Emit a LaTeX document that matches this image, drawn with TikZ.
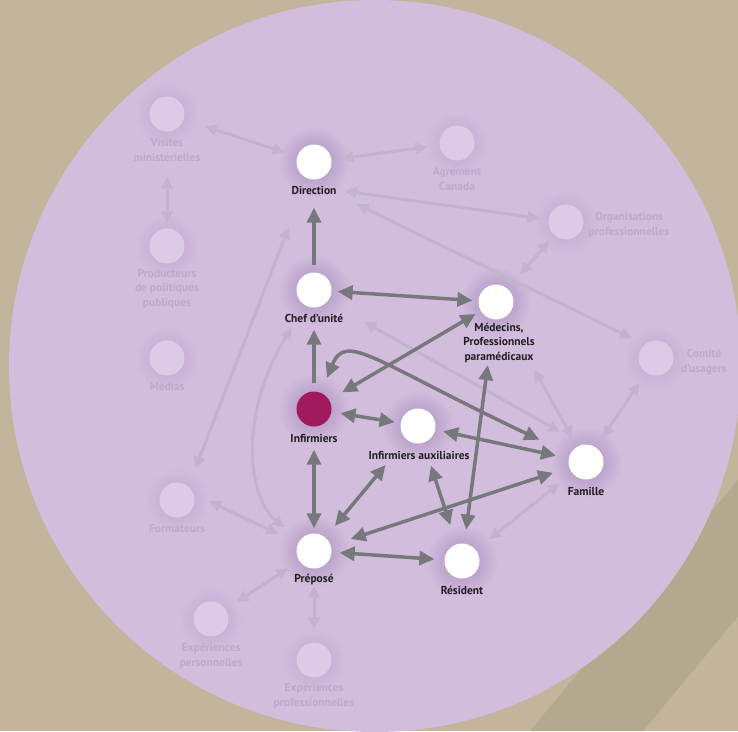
\documentclass[tikz,border=0pt]{standalone}
\usepackage{fontspec}
\setmainfont{PT Sans}
\usetikzlibrary{arrows.meta}

\definecolor{sand}{HTML}{C2B59B}
\definecolor{sanddark}{HTML}{B4A98F}
\definecolor{lav}{HTML}{D3BDDD}
\definecolor{glowdark}{HTML}{B8A0C8}
\definecolor{glowlight}{HTML}{C8B1D5}
\definecolor{lightnode}{HTML}{DCCAE6}
\definecolor{lighttext}{HTML}{BDABC9}
\definecolor{darktext}{HTML}{231F20}
\definecolor{darklink}{HTML}{76787B}
\definecolor{lightlink}{HTML}{C3B3CF}
\definecolor{nurse}{HTML}{A21A5E}

\pgfdeclarelayer{bg}
\pgfdeclarelayer{glow}
\pgfsetlayers{bg,glow,main}

\pgfdeclareradialshading{darkglow}{\pgfpointorigin}{color(0bp)=(glowdark); color(10bp)=(glowdark); color(25bp)=(lav); color(50bp)=(lav)}
\pgfdeclareradialshading{lightglow}{\pgfpointorigin}{color(0bp)=(glowlight); color(12bp)=(glowlight); color(25bp)=(lav); color(50bp)=(lav)}

\begin{document}
\begin{tikzpicture}[x=1pt, y=-1pt,
    wnode/.style={circle, fill=white, minimum size=35pt, inner sep=0pt},
    lnode/.style={circle, fill=lightnode, minimum size=35pt, inner sep=0pt},
    dlabel/.style={font=\bfseries\fontsize{11.5}{14.5}\selectfont, text=darktext, align=center, inner sep=0pt},
    llabel/.style={dlabel, text=lighttext},
    dlink/.style={draw=darklink, line width=3.5pt, {Triangle[length=15pt,width=14pt]}-{Triangle[length=15pt,width=14pt]}},
    dlinkone/.style={draw=darklink, line width=3.5pt, -{Triangle[length=15pt,width=14pt]}},
    llink/.style={draw=lightlink, line width=3pt, {Triangle[length=12pt,width=11pt]}-{Triangle[length=12pt,width=11pt]}}]
    \useasboundingbox (0,0) rectangle (738,731);

    % main actors
    \node[wnode] (dir) at (314,162) {};
    \node[wnode] (chef) at (314,290) {};
    \node[wnode] (med) at (496,302) {};
    \node[circle, fill=nurse, minimum size=35pt, inner sep=0pt] (inf) at (314,409) {};
    \node[wnode] (aux) at (418,426) {};
    \node[wnode] (fam) at (586,462) {};
    \node[wnode] (prep) at (314,551) {};
    \node[wnode] (res) at (462,561) {};

    % outside actors
    \node[lnode] (vis) at (167,114) {};
    \node[lnode] (agr) at (457,143) {};
    \node[lnode] (prod) at (167,246) {};
    \node[lnode] (org) at (566,222) {};
    \node[lnode] (medias) at (167,358) {};
    \node[lnode] (com) at (656,358) {};
    \node[lnode] (form) at (177,500) {};
    \node[lnode] (expp) at (211,619) {};
    \node[lnode] (expr) at (314,660) {};

    % labels
    \node[dlabel] (dir-l) at (314,190) {Direction};
    \node[dlabel] (chef-l) at (314,318) {Chef d’unité};
    \node[dlabel] (med-l) at (499,343) {Médecins,\\Professionnels\\paramédicaux};
    \node[dlabel] (inf-l) at (314,438) {Infirmiers};
    \node[dlabel] (aux-l) at (419,455) {Infirmiers auxiliaires};
    \node[dlabel] (fam-l) at (586,491) {Famille};
    \node[dlabel] (prep-l) at (314,579) {Préposé};
    \node[dlabel] (res-l) at (462,590) {Résident};
    \node[llabel] (vis-l) at (167,150) {Visites\\ministérielles};
    \node[llabel] (agr-l) at (457,179) {Agrément\\Canada};
    \node[llabel] (prod-l) at (167,289) {Producteurs\\de politiques\\publiques};
    \node[llabel] (org-l) at (629,225) {Organisations\\professionnelles};
    \node[llabel] (medias-l) at (167,386) {Médias};
    \node[llabel] (com-l) at (704,362) {Comité\\d’usagers};
    \node[llabel] (form-l) at (177,529) {Formateurs};
    \node[llabel] (expp-l) at (211,656) {Expériences\\personnelles};
    \node[llabel] (expr-l) at (314,696) {Expériences\\professionnelles};

    % background and halos
    \begin{pgfonlayer}{bg}
        \clip (0,0) rectangle (738,731);
        \fill[sand] (0,0) rectangle (738,731);
        \fill[sanddark] (530,731) -- (760,453) -- (760,590) -- (643,731) -- cycle;
        \fill[lav] (375,366) circle (366pt);
    \end{pgfonlayer}
    \begin{pgfonlayer}{glow}
        \foreach \n in {dir,chef,med,inf,aux,fam,prep,res}
            \shade[shading=darkglow] (\n) circle (36pt);
        \foreach \n in {vis,agr,prod,org,medias,com,form,expp,expr}
            \shade[shading=lightglow] (\n) circle (32pt);
    \end{pgfonlayer}

    % light links
    \draw[llink, shorten <=22pt, shorten >=13pt] (vis) -- (dir);
    \draw[llink, shorten <=45pt, shorten >=5pt] (vis) -- (prod);
    \draw[llink, shorten <=10pt, shorten >=12pt] (dir) -- (agr);
    \draw[llink, shorten <=8pt, shorten >=9pt] (dir-l.east) -- (org);
    \draw[llink, shorten <=22pt, shorten >=14pt] (dir-l.south east) -- (com.130);
    \draw[llink, shorten <=7pt, shorten >=19pt] (org) -- (med);
    \draw[llink, shorten <=60pt, shorten >=10pt] (med) -- (fam);
    \draw[llink, shorten <=12pt, shorten >=12pt] (com) -- (fam);
    \draw[llink, shorten <=42pt, shorten >=26pt] (chef.-40) -- (fam.100);
    \draw[llink, shorten <=52pt, shorten >=19pt] (dir) -- (form.50);
    \draw[llink, shorten <=26pt, shorten >=20pt] (chef) .. controls +(-78,130) and +(-64,-51) .. (prep);
    \draw[llink, shorten <=17pt, shorten >=22pt] (form.20) -- (prep);
    \draw[llink, shorten <=13pt, shorten >=13pt] (expp) -- (prep);
    \draw[llink, shorten <=17pt, shorten >=13pt] (prep) -- (expr);
    \draw[llink, shorten <=17pt, shorten >=16pt] (res) -- (fam);

    % dark links
    \draw[dlinkone, shorten <=7pt, shorten >=28pt] (chef) -- (dir);
    \draw[dlink, shorten <=6pt, shorten >=6pt] (chef) -- (med);
    \draw[dlinkone, shorten <=8pt, shorten >=22pt] (inf) -- (chef);
    \draw[dlink, shorten <=15pt, shorten >=6pt] (inf) -- (med);
    \draw[dlink, shorten <=16pt, shorten >=34pt] (inf) .. controls +(32,-77) and +(-216,-103) .. (fam);
    \draw[dlink, shorten <=9pt, shorten >=6pt] (inf) -- (aux);
    \draw[dlink, shorten <=8pt, shorten >=13pt] (aux) -- (fam);
    \draw[dlink, shorten <=23pt, shorten >=5pt] (inf) -- (prep);
    \draw[dlink, shorten <=33pt, shorten >=15pt] (aux) -- (prep);
    \draw[dlink, shorten <=21pt, shorten >=17pt] (prep) -- (fam);
    \draw[dlink, shorten <=8pt, shorten >=10pt] (prep) -- (res);
    \draw[dlink, shorten <=24pt, shorten >=20pt] (aux) -- (res);
    \draw[dlink, shorten <=46pt, shorten >=14pt] (med) -- (res);
\end{tikzpicture}
\end{document}
